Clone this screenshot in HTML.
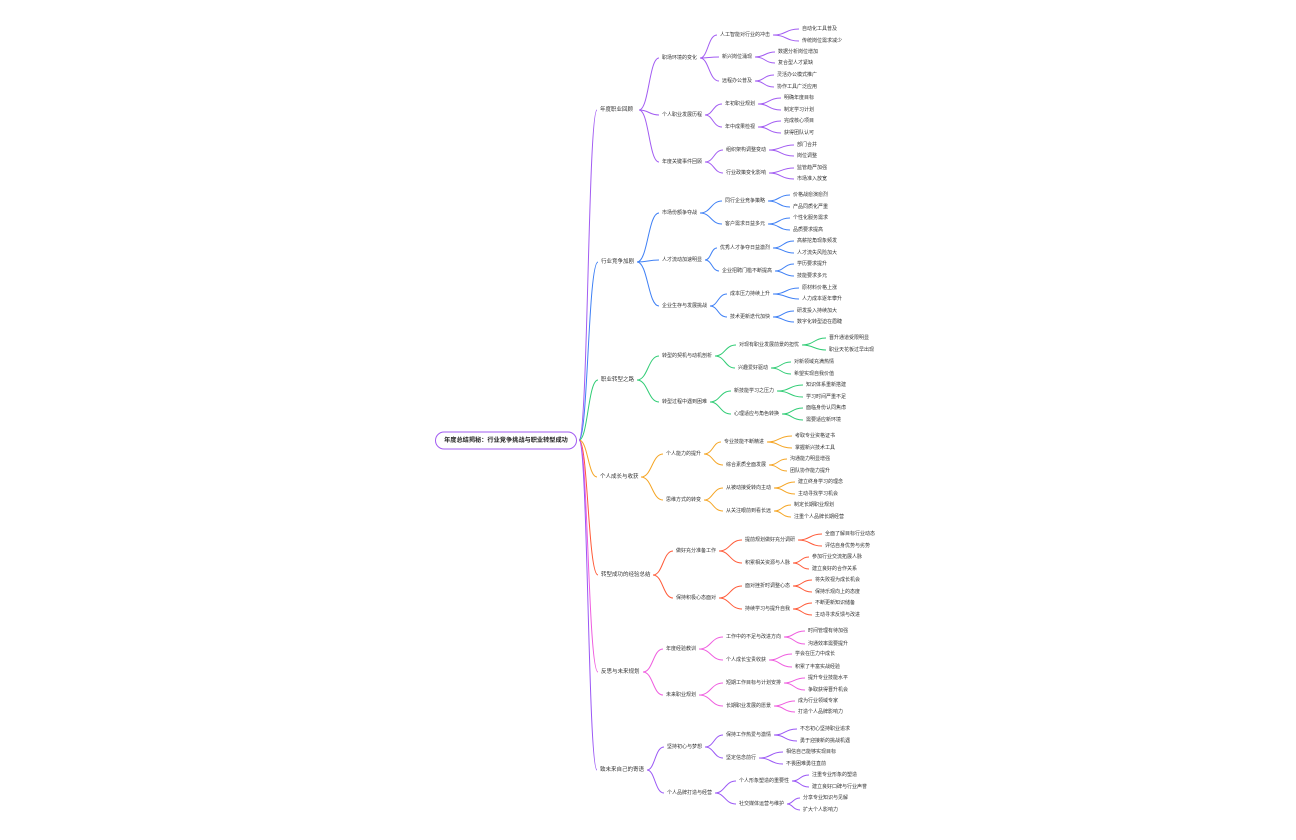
<!DOCTYPE html>
<html><head><meta charset="utf-8"><style>
html,body{margin:0;padding:0;background:#fff;width:1296px;height:840px;overflow:hidden}
svg{display:block}
text{font-family:"Liberation Sans","Noto Sans CJK SC",sans-serif;font-size:5px;fill:#333;dominant-baseline:central}
.l1{font-size:5.5px}
path{fill:none;stroke-width:1}
.a path{stroke:#a25cf2}.b path{stroke:#3f80f5}.c path{stroke:#2fcc74}.d path{stroke:#f5a524}.e path{stroke:#ff5a38}.f path{stroke:#ef5ddf}.g path{stroke:#9a57f5}
</style></head><body>
<svg width="1296" height="840" viewBox="0 0 1296 840">
<g class="a">
<path d="M579 440C588 440 588 110 597 110"/>
<path d="M639 110C649 110 649 58 659 58"/><path d="M639 110C649 110 649 115 659 115"/><path d="M639 110C649 110 649 162 659 162"/>
<path d="M700 58C708 58 708 35 717 35"/><path d="M700 58C709 58 709 57 719 57"/><path d="M700 58C709 58 709 81 719 81"/>
<path d="M773 35C786 35 786 29 799 29"/><path d="M773 35C786 35 786 41 799 41"/>
<path d="M755 57C765 57 765 52 775 52"/><path d="M755 57C765 57 765 63 775 63"/>
<path d="M755 81C764 81 764 75 774 75"/><path d="M755 81C764 81 764 87 774 87"/>
<path d="M705 115C713 115 713 104 722 104"/><path d="M705 115C713 115 713 127 722 127"/>
<path d="M758 104C769 104 769 98 781 98"/><path d="M758 104C769 104 769 110 781 110"/>
<path d="M758 127C769 127 769 121 781 121"/><path d="M758 127C769 127 769 133 781 133"/>
<path d="M705 162C714 162 714 150 723 150"/><path d="M705 162C714 162 714 173 723 173"/>
<path d="M769 150C781 150 781 145 794 145"/><path d="M769 150C781 150 781 156 794 156"/>
<path d="M769 173C781 173 781 168 794 168"/><path d="M769 173C781 173 781 179 794 179"/>
</g>
<g class="b">
<path d="M579 440C588 440 588 262 598 262"/>
<path d="M637 262C648 262 648 213 659 213"/><path d="M637 262C648 262 648 260 659 260"/><path d="M637 262C648 262 648 306 659 306"/>
<path d="M700 213C711 213 711 201 722 201"/><path d="M700 213C711 213 711 224 722 224"/>
<path d="M768 201C779 201 779 195 790 195"/><path d="M768 201C779 201 779 207 790 207"/>
<path d="M768 224C779 224 779 218 790 218"/><path d="M768 224C779 224 779 230 790 230"/>
<path d="M705 260C711 260 711 248 717 248"/><path d="M705 260C712 260 712 271 719 271"/>
<path d="M773 248C783 248 783 241 794 241"/><path d="M773 248C783 248 783 253 794 253"/>
<path d="M775 271C784 271 784 264 794 264"/><path d="M775 271C784 271 784 276 794 276"/>
<path d="M710 306C718 306 718 294 727 294"/><path d="M710 306C718 306 718 317 727 317"/>
<path d="M773 294C786 294 786 288 799 288"/><path d="M773 294C786 294 786 299 799 299"/>
<path d="M773 317C783 317 783 311 794 311"/><path d="M773 317C783 317 783 322 794 322"/>
</g>
<g class="c">
<path d="M579 440C588 440 588 380 598 380"/>
<path d="M637 380C648 380 648 356 659 356"/><path d="M637 380C648 380 648 402 659 402"/>
<path d="M715 356C725 356 725 345 736 345"/><path d="M715 356C725 356 725 368 735 368"/>
<path d="M802 345C814 345 814 338 826 338"/><path d="M802 345C814 345 814 350 826 350"/>
<path d="M771 368C781 368 781 362 791 362"/><path d="M771 368C781 368 781 374 791 374"/>
<path d="M710 402C720 402 720 391 731 391"/><path d="M710 402C720 402 720 414 731 414"/>
<path d="M777 391C790 391 790 385 803 385"/><path d="M777 391C790 391 790 397 803 397"/>
<path d="M782 414C792 414 792 408 803 408"/><path d="M782 414C792 414 792 420 803 420"/>
</g>
<g class="d">
<path d="M579 440C588 440 588 477 597 477"/>
<path d="M641 477C652 477 652 454 663 454"/><path d="M641 477C652 477 652 500 663 500"/>
<path d="M704 454C713 454 713 442 721 442"/><path d="M704 454C713 454 713 465 723 465"/>
<path d="M767 442C779 442 779 436 792 436"/><path d="M767 442C779 442 779 448 792 448"/>
<path d="M769 465C778 465 778 459 787 459"/><path d="M769 465C778 465 778 471 787 471"/>
<path d="M704 500C713 500 713 488 723 488"/><path d="M704 500C713 500 713 511 723 511"/>
<path d="M774 488C784 488 784 482 795 482"/><path d="M774 488C784 488 784 494 795 494"/>
<path d="M774 511C782 511 782 505 791 505"/><path d="M774 511C782 511 782 517 791 517"/>
</g>
<g class="e">
<path d="M579 440C588 440 588 575 598 575"/>
<path d="M653 575C663 575 663 551 673 551"/><path d="M653 575C663 575 663 598 673 598"/>
<path d="M719 551C730 551 730 540 742 540"/><path d="M719 551C730 551 730 563 742 563"/>
<path d="M798 540C810 540 810 534 822 534"/><path d="M798 540C810 540 810 546 822 546"/>
<path d="M793 563C801 563 801 557 809 557"/><path d="M793 563C801 563 801 569 809 569"/>
<path d="M719 598C730 598 730 586 742 586"/><path d="M719 598C730 598 730 609 742 609"/>
<path d="M793 586C802 586 802 580 812 580"/><path d="M793 586C802 586 802 592 812 592"/>
<path d="M793 609C802 609 802 603 812 603"/><path d="M793 609C802 609 802 615 812 615"/>
</g>
<g class="f">
<path d="M579 440C588 440 588 672 598 672"/>
<path d="M643 672C653 672 653 649 663 649"/><path d="M643 672C653 672 653 695 663 695"/>
<path d="M699 649C711 649 711 637 723 637"/><path d="M699 649C711 649 711 660 723 660"/>
<path d="M784 637C794 637 794 631 805 631"/><path d="M784 637C794 637 794 644 805 644"/>
<path d="M769 660C780 660 780 654 792 654"/><path d="M769 660C780 660 780 667 792 667"/>
<path d="M699 695C711 695 711 683 723 683"/><path d="M699 695C711 695 711 706 723 706"/>
<path d="M784 683C794 683 794 678 805 678"/><path d="M784 683C794 683 794 690 805 690"/>
<path d="M774 706C784 706 784 701 795 701"/><path d="M774 706C784 706 784 712 795 712"/>
</g>
<g class="g">
<path d="M579 440C588 440 588 770 597 770"/>
<path d="M647 770C655 770 655 747 664 747"/><path d="M647 770C655 770 655 793 664 793"/>
<path d="M705 747C714 747 714 735 723 735"/><path d="M705 747C714 747 714 758 723 758"/>
<path d="M774 735C785 735 785 729 797 729"/><path d="M774 735C785 735 785 741 797 741"/>
<path d="M759 758C771 758 771 752 783 752"/><path d="M759 758C771 758 771 764 783 764"/>
<path d="M715 793C725 793 725 781 736 781"/><path d="M715 793C725 793 725 804 736 804"/>
<path d="M792 781C800 781 800 775 809 775"/><path d="M792 781C800 781 800 787 809 787"/>
<path d="M787 804C793 804 793 798 800 798"/><path d="M787 804C793 804 793 810 800 810"/>
</g>
<rect x="435.5" y="432" width="141" height="17" rx="8.5" fill="#fff" stroke="#a25cf2" stroke-width="1"/>
<text x="506" y="440.5" text-anchor="middle" style="font-size:6.2px;font-weight:bold;fill:#222">年度总结揭秘：行业竞争挑战与职业转型成功</text>

<text class="l1" x="600" y="110">年度职业回顾</text>
<text x="662" y="58">职场环境的变化</text>
<text x="720" y="35">人工智能对行业的冲击</text><text x="802" y="29">自动化工具普及</text><text x="802" y="41">传统岗位需求减少</text>
<text x="722" y="57">新兴岗位涌现</text><text x="778" y="52">数据分析岗位增加</text><text x="778" y="63">复合型人才紧缺</text>
<text x="722" y="81">远程办公普及</text><text x="777" y="75">灵活办公模式推广</text><text x="777" y="87">协作工具广泛应用</text>
<text x="662" y="115">个人职业发展历程</text>
<text x="725" y="104">年初职业规划</text><text x="784" y="98">明确年度目标</text><text x="784" y="110">制定学习计划</text>
<text x="725" y="127">年中成果检视</text><text x="784" y="121">完成核心项目</text><text x="784" y="133">获得团队认可</text>
<text x="662" y="162">年度关键事件回顾</text>
<text x="726" y="150">组织架构调整变动</text><text x="797" y="145">部门合并</text><text x="797" y="156">岗位调整</text>
<text x="726" y="173">行业政策变化影响</text><text x="797" y="168">监管趋严加强</text><text x="797" y="179">市场准入放宽</text>

<text class="l1" x="601" y="262">行业竞争加剧</text>
<text x="662" y="213">市场份额争夺战</text>
<text x="725" y="201">同行企业竞争策略</text><text x="793" y="195">价格战愈演愈烈</text><text x="793" y="207">产品同质化严重</text>
<text x="725" y="224">客户需求日益多元</text><text x="793" y="218">个性化服务需求</text><text x="793" y="230">品质要求提高</text>
<text x="662" y="260">人才流动加速明显</text>
<text x="720" y="248">优秀人才争夺日益激烈</text><text x="797" y="241">高薪挖角现象频发</text><text x="797" y="253">人才流失风险加大</text>
<text x="722" y="271">企业招聘门槛不断提高</text><text x="797" y="264">学历要求提升</text><text x="797" y="276">技能要求多元</text>
<text x="662" y="306">企业生存与发展挑战</text>
<text x="730" y="294">成本压力持续上升</text><text x="802" y="288">原材料价格上涨</text><text x="802" y="299">人力成本逐年攀升</text>
<text x="730" y="317">技术更新迭代加快</text><text x="797" y="311">研发投入持续加大</text><text x="797" y="322">数字化转型迫在眉睫</text>

<text class="l1" x="601" y="380">职业转型之路</text>
<text x="662" y="356">转型的契机与动机剖析</text>
<text x="739" y="345">对现有职业发展前景的担忧</text><text x="829" y="338">晋升通道受限明显</text><text x="829" y="350">职业天花板过早出现</text>
<text x="738" y="368">兴趣爱好驱动</text><text x="794" y="362">对新领域充满热情</text><text x="794" y="374">希望实现自我价值</text>
<text x="662" y="402">转型过程中遇到困难</text>
<text x="734" y="391">新技能学习之压力</text><text x="806" y="385">知识体系重新搭建</text><text x="806" y="397">学习时间严重不足</text>
<text x="734" y="414">心理适应与角色转换</text><text x="806" y="408">面临身份认同焦虑</text><text x="806" y="420">需要适应新环境</text>

<text class="l1" x="600" y="477">个人成长与收获</text>
<text x="666" y="454">个人能力的提升</text>
<text x="724" y="442">专业技能不断精进</text><text x="795" y="436">考取专业资格证书</text><text x="795" y="448">掌握新兴技术工具</text>
<text x="726" y="465">综合素质全面发展</text><text x="790" y="459">沟通能力明显增强</text><text x="790" y="471">团队协作能力提升</text>
<text x="666" y="500">思维方式的转变</text>
<text x="726" y="488">从被动接受转向主动</text><text x="798" y="482">建立终身学习的理念</text><text x="798" y="494">主动寻找学习机会</text>
<text x="726" y="511">从关注眼前到看长远</text><text x="794" y="505">制定长期职业规划</text><text x="794" y="517">注重个人品牌长期经营</text>

<text class="l1" x="601" y="575">转型成功的经验总结</text>
<text x="676" y="551">做好充分准备工作</text>
<text x="745" y="540">提前规划做好充分调研</text><text x="825" y="534">全面了解目标行业动态</text><text x="825" y="546">评估自身优势与劣势</text>
<text x="745" y="563">积累相关资源与人脉</text><text x="812" y="557">参加行业交流拓展人脉</text><text x="812" y="569">建立良好的合作关系</text>
<text x="676" y="598">保持积极心态面对</text>
<text x="745" y="586">面对挫折时调整心态</text><text x="815" y="580">将失败视为成长机会</text><text x="815" y="592">保持乐观向上的态度</text>
<text x="745" y="609">持续学习与提升自我</text><text x="815" y="603">不断更新知识储备</text><text x="815" y="615">主动寻求反馈与改进</text>

<text class="l1" x="601" y="672">反思与未来规划</text>
<text x="666" y="649">年度经验教训</text>
<text x="726" y="637">工作中的不足与改进方向</text><text x="808" y="631">时间管理有待加强</text><text x="808" y="644">沟通效率需要提升</text>
<text x="726" y="660">个人成长宝贵收获</text><text x="795" y="654">学会在压力中成长</text><text x="795" y="667">积累了丰富实战经验</text>
<text x="666" y="695">未来职业规划</text>
<text x="726" y="683">短期工作目标与计划安排</text><text x="808" y="678">提升专业技能水平</text><text x="808" y="690">争取获得晋升机会</text>
<text x="726" y="706">长期职业发展的愿景</text><text x="798" y="701">成为行业领域专家</text><text x="798" y="712">打造个人品牌影响力</text>

<text class="l1" x="600" y="770">致未来自己的寄语</text>
<text x="667" y="747">坚持初心与梦想</text>
<text x="726" y="735">保持工作热爱与激情</text><text x="800" y="729">不忘初心坚持职业追求</text><text x="800" y="741">勇于迎接新的挑战机遇</text>
<text x="726" y="758">坚定信念前行</text><text x="786" y="752">相信自己能够实现目标</text><text x="786" y="764">不畏困难勇往直前</text>
<text x="667" y="793">个人品牌打造与经营</text>
<text x="739" y="781">个人形象塑造的重要性</text><text x="812" y="775">注重专业形象的塑造</text><text x="812" y="787">建立良好口碑与行业声誉</text>
<text x="739" y="804">社交媒体运营与维护</text><text x="803" y="798">分享专业知识与见解</text><text x="803" y="810">扩大个人影响力</text>
</svg>
</body></html>
